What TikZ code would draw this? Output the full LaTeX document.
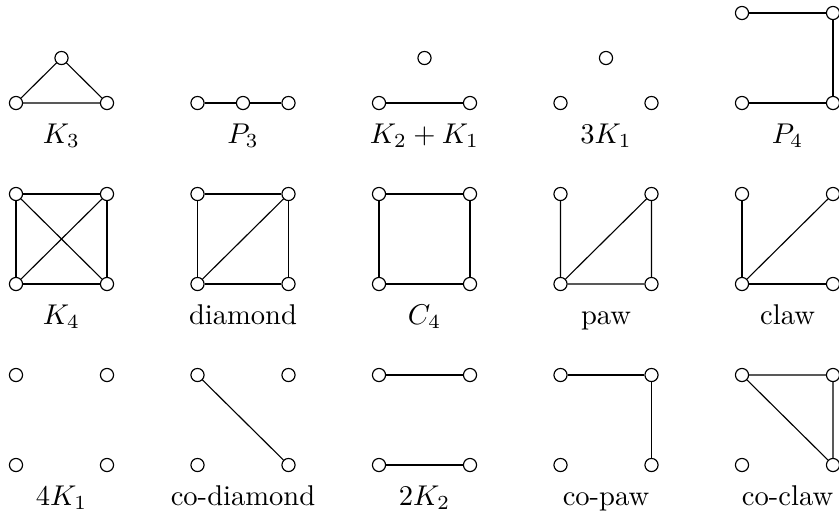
\documentclass[tikz,border=0pt]{standalone}
\begin{document}
\begin{tikzpicture}[x=0.35pt,y=-0.35pt,
  vtx/.style={circle,draw,fill=white,inner sep=0pt,minimum size=4.6pt,line width=0.4pt},
  lbl/.style={anchor=base,inner sep=0pt},
  edge/.style={line width=0.4pt}]
\useasboundingbox (0,0) rectangle (839,516);
% ---------- Row 1 ----------
% K3
\node[vtx] (k3a) at (61.5,58) {};
\node[vtx] (k3b) at (16,103) {};
\node[vtx] (k3c) at (107,103) {};
\draw[edge] (k3a) -- (k3b) -- (k3c) -- (k3a);
\node[lbl] (lk3) at (61.5,143) {$K_3$};
% P3
\node[vtx] (p3a) at (197.5,103) {};
\node[vtx] (p3b) at (243,103) {};
\node[vtx] (p3c) at (288.5,103) {};
\draw[edge] (p3a) -- (p3b) -- (p3c);
\node[lbl] (lp3) at (243,143) {$P_3$};
% K2+K1
\node[vtx] (kka) at (424.5,58) {};
\node[vtx] (kkb) at (379,103) {};
\node[vtx] (kkc) at (470,103) {};
\draw[edge] (kkb) -- (kkc);
\node[lbl] (lkk) at (424.5,143) {$K_2+K_1$};
% 3K1
\node[vtx] (tka) at (606,58) {};
\node[vtx] (tkb) at (560.5,103) {};
\node[vtx] (tkc) at (651.5,103) {};
\node[lbl] (ltk) at (606,143) {$3K_1$};
% P4
\node[vtx] (p4a) at (742,13) {};
\node[vtx] (p4b) at (833,13) {};
\node[vtx] (p4c) at (742,103) {};
\node[vtx] (p4d) at (833,103) {};
\draw[edge] (p4a) -- (p4b) -- (p4d) -- (p4c);
\node[lbl] (lp4) at (787.5,143) {$P_4$};
% ---------- Row 2 ----------
% K4
\node[vtx] (k4a) at (16,194) {};
\node[vtx] (k4b) at (107,194) {};
\node[vtx] (k4c) at (16,284) {};
\node[vtx] (k4d) at (107,284) {};
\draw[edge] (k4a) -- (k4b) -- (k4d) -- (k4c) -- (k4a);
\draw[edge] (k4a) -- (k4d);
\draw[edge] (k4b) -- (k4c);
\node[lbl] (lk4) at (61.5,324) {$K_4$};
% diamond
\node[vtx] (dma) at (197.5,194) {};
\node[vtx] (dmb) at (288.5,194) {};
\node[vtx] (dmc) at (197.5,284) {};
\node[vtx] (dmd) at (288.5,284) {};
\draw[edge] (dma) -- (dmb) -- (dmd) -- (dmc) -- (dma);
\draw[edge] (dmc) -- (dmb);
\node[lbl] (ldm) at (243,324) {diamond};
% C4
\node[vtx] (c4a) at (379,194) {};
\node[vtx] (c4b) at (470,194) {};
\node[vtx] (c4c) at (379,284) {};
\node[vtx] (c4d) at (470,284) {};
\draw[edge] (c4a) -- (c4b) -- (c4d) -- (c4c) -- (c4a);
\node[lbl] (lc4) at (424.5,324) {$C_4$};
% paw
\node[vtx] (pwa) at (560.5,194) {};
\node[vtx] (pwb) at (651.5,194) {};
\node[vtx] (pwc) at (560.5,284) {};
\node[vtx] (pwd) at (651.5,284) {};
\draw[edge] (pwa) -- (pwc) -- (pwd) -- (pwb) -- (pwc);
\node[lbl] (lpw) at (606,324) {paw};
% claw
\node[vtx] (cla) at (742,194) {};
\node[vtx] (clb) at (833,194) {};
\node[vtx] (clc) at (742,284) {};
\node[vtx] (cld) at (833,284) {};
\draw[edge] (clc) -- (cla);
\draw[edge] (clc) -- (clb);
\draw[edge] (clc) -- (cld);
\node[lbl] (lcl) at (787.5,324) {claw};
% ---------- Row 3 ----------
% 4K1
\node[vtx] (fka) at (16,375) {};
\node[vtx] (fkb) at (107,375) {};
\node[vtx] (fkc) at (16,465) {};
\node[vtx] (fkd) at (107,465) {};
\node[lbl] (lfk) at (61.5,505) {$4K_1$};
% co-diamond
\node[vtx] (cda) at (197.5,375) {};
\node[vtx] (cdb) at (288.5,375) {};
\node[vtx] (cdc) at (197.5,465) {};
\node[vtx] (cdd) at (288.5,465) {};
\draw[edge] (cda) -- (cdd);
\node[lbl] (lcd) at (243,505) {co-diamond};
% 2K2
\node[vtx] (tta) at (379,375) {};
\node[vtx] (ttb) at (470,375) {};
\node[vtx] (ttc) at (379,465) {};
\node[vtx] (ttd) at (470,465) {};
\draw[edge] (tta) -- (ttb);
\draw[edge] (ttc) -- (ttd);
\node[lbl] (ltt) at (424.5,505) {$2K_2$};
% co-paw
\node[vtx] (cpa) at (560.5,375) {};
\node[vtx] (cpb) at (651.5,375) {};
\node[vtx] (cpc) at (560.5,465) {};
\node[vtx] (cpd) at (651.5,465) {};
\draw[edge] (cpa) -- (cpb) -- (cpd);
\node[lbl] (lcp) at (606,505) {co-paw};
% co-claw
\node[vtx] (cca) at (742,375) {};
\node[vtx] (ccb) at (833,375) {};
\node[vtx] (ccc) at (742,465) {};
\node[vtx] (ccd) at (833,465) {};
\draw[edge] (cca) -- (ccb) -- (ccd) -- (cca);
\node[lbl] (lcc) at (787.5,505) {co-claw};
\end{tikzpicture}
\end{document}
